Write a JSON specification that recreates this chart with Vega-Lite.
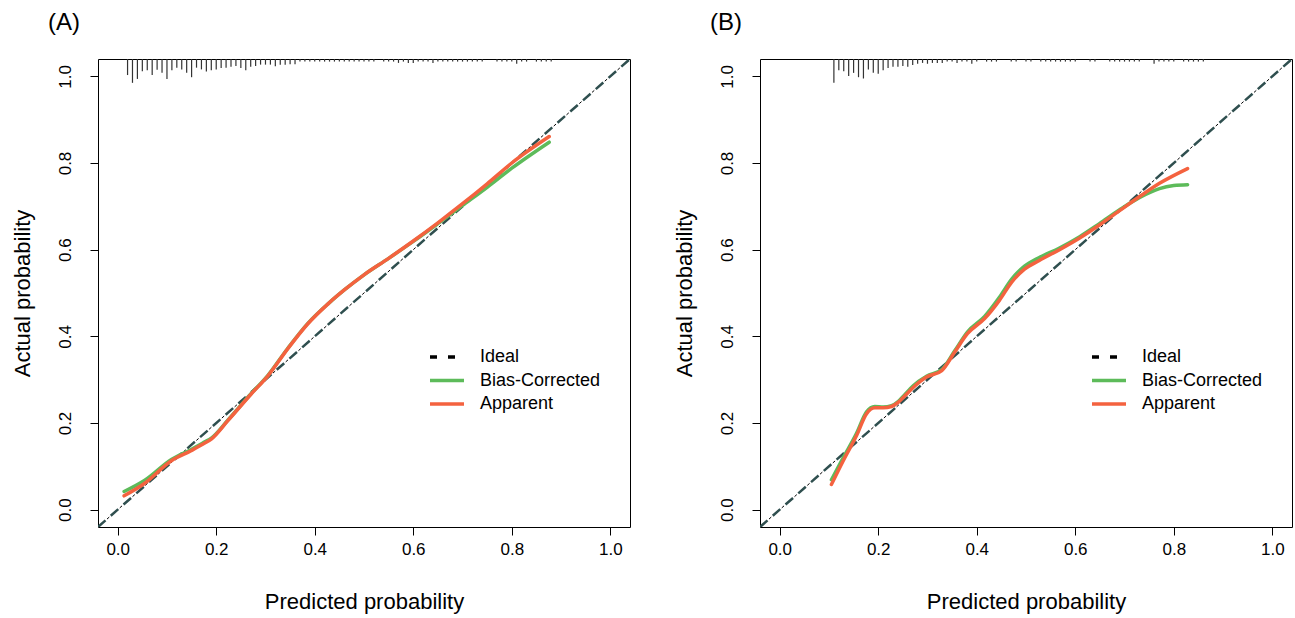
{
  "$schema": "https://vega.github.io/schema/vega-lite/v6.json",
  "background": "white",
  "padding": {"left": 10, "top": 10, "right": 5, "bottom": 5},
  "bounds": "flush",
  "spacing": 130,
  "config": {
    "font": "Liberation Sans",
    "view": {"stroke": "black", "strokeWidth": 1},
    "axis": {
      "domain": false, "grid": false, "ticks": true, "tickColor": "black", "tickSize": 8, "tickWidth": 1,
      "labelFont": "Liberation Sans", "labelFontSize": 17, "labelColor": "black",
      "titleFont": "Liberation Sans", "titleFontSize": 22, "titleFontWeight": "normal", "titleColor": "black"
    },
    "axisX": {"labelPadding": 6, "titlePadding": 34},
    "axisY": {"labelAngle": -90, "labelAlign": "center", "labelBaseline": "bottom", "labelPadding": 16, "titlePadding": 22},
    "title": {"font": "Liberation Sans", "fontSize": 24, "fontWeight": "normal", "color": "black"}
  },
  "datasets": {
    "ideal": [{"x": -0.04, "y": -0.04}, {"x": 1.04, "y": 1.04}],
    "rugA": [
      {"x": 0.02, "ybot": 1.003}, {"x": 0.03, "ybot": 0.985}, {"x": 0.04, "ybot": 0.994}, {"x": 0.05, "ybot": 1.012},
      {"x": 0.06, "ybot": 1.014}, {"x": 0.07, "ybot": 1.003}, {"x": 0.08, "ybot": 1.015}, {"x": 0.09, "ybot": 1.008},
      {"x": 0.10, "ybot": 0.994}, {"x": 0.11, "ybot": 1.014}, {"x": 0.12, "ybot": 1.020}, {"x": 0.13, "ybot": 1.016},
      {"x": 0.14, "ybot": 1.008}, {"x": 0.15, "ybot": 0.998}, {"x": 0.16, "ybot": 1.020}, {"x": 0.17, "ybot": 1.016},
      {"x": 0.18, "ybot": 1.011}, {"x": 0.19, "ybot": 1.014}, {"x": 0.20, "ybot": 1.016}, {"x": 0.21, "ybot": 1.019},
      {"x": 0.22, "ybot": 1.020}, {"x": 0.23, "ybot": 1.022}, {"x": 0.24, "ybot": 1.024}, {"x": 0.25, "ybot": 1.019},
      {"x": 0.26, "ybot": 1.014}, {"x": 0.27, "ybot": 1.022}, {"x": 0.28, "ybot": 1.024}, {"x": 0.29, "ybot": 1.027},
      {"x": 0.30, "ybot": 1.027}, {"x": 0.31, "ybot": 1.027}, {"x": 0.32, "ybot": 1.023}, {"x": 0.33, "ybot": 1.027},
      {"x": 0.34, "ybot": 1.027}, {"x": 0.35, "ybot": 1.028}, {"x": 0.36, "ybot": 1.028}, {"x": 0.37, "ybot": 1.034},
      {"x": 0.38, "ybot": 1.034}, {"x": 0.39, "ybot": 1.034}, {"x": 0.40, "ybot": 1.034}, {"x": 0.41, "ybot": 1.034},
      {"x": 0.42, "ybot": 1.034}, {"x": 0.43, "ybot": 1.034}, {"x": 0.44, "ybot": 1.034}, {"x": 0.45, "ybot": 1.034},
      {"x": 0.46, "ybot": 1.034}, {"x": 0.47, "ybot": 1.034}, {"x": 0.48, "ybot": 1.034}, {"x": 0.49, "ybot": 1.034},
      {"x": 0.50, "ybot": 1.034}, {"x": 0.51, "ybot": 1.034}, {"x": 0.52, "ybot": 1.034}, {"x": 0.54, "ybot": 1.034},
      {"x": 0.55, "ybot": 1.034}, {"x": 0.56, "ybot": 1.034}, {"x": 0.57, "ybot": 1.031}, {"x": 0.58, "ybot": 1.034},
      {"x": 0.59, "ybot": 1.031}, {"x": 0.60, "ybot": 1.031}, {"x": 0.61, "ybot": 1.034}, {"x": 0.62, "ybot": 1.034},
      {"x": 0.63, "ybot": 1.034}, {"x": 0.64, "ybot": 1.031}, {"x": 0.65, "ybot": 1.034}, {"x": 0.66, "ybot": 1.034},
      {"x": 0.67, "ybot": 1.034}, {"x": 0.68, "ybot": 1.034}, {"x": 0.69, "ybot": 1.034}, {"x": 0.70, "ybot": 1.034},
      {"x": 0.71, "ybot": 1.034}, {"x": 0.72, "ybot": 1.034}, {"x": 0.73, "ybot": 1.034}, {"x": 0.74, "ybot": 1.034},
      {"x": 0.77, "ybot": 1.034}, {"x": 0.78, "ybot": 1.034}, {"x": 0.79, "ybot": 1.034}, {"x": 0.80, "ybot": 1.034},
      {"x": 0.81, "ybot": 1.029}, {"x": 0.82, "ybot": 1.034}, {"x": 0.83, "ybot": 1.034}, {"x": 0.85, "ybot": 1.034},
      {"x": 0.86, "ybot": 1.034}, {"x": 0.87, "ybot": 1.034}, {"x": 0.88, "ybot": 1.034}
    ],
    "rugB": [
      {"x": 0.11, "ybot": 0.985}, {"x": 0.12, "ybot": 1.014}, {"x": 0.13, "ybot": 1.012}, {"x": 0.14, "ybot": 1.001},
      {"x": 0.15, "ybot": 1.008}, {"x": 0.16, "ybot": 0.998}, {"x": 0.17, "ybot": 0.995}, {"x": 0.18, "ybot": 1.016},
      {"x": 0.19, "ybot": 1.008}, {"x": 0.20, "ybot": 1.006}, {"x": 0.21, "ybot": 1.014}, {"x": 0.22, "ybot": 1.019},
      {"x": 0.23, "ybot": 1.022}, {"x": 0.24, "ybot": 1.022}, {"x": 0.25, "ybot": 1.024}, {"x": 0.26, "ybot": 1.022},
      {"x": 0.27, "ybot": 1.026}, {"x": 0.28, "ybot": 1.029}, {"x": 0.29, "ybot": 1.031}, {"x": 0.30, "ybot": 1.029},
      {"x": 0.31, "ybot": 1.031}, {"x": 0.32, "ybot": 1.031}, {"x": 0.33, "ybot": 1.031}, {"x": 0.34, "ybot": 1.034},
      {"x": 0.35, "ybot": 1.034}, {"x": 0.36, "ybot": 1.031}, {"x": 0.37, "ybot": 1.034}, {"x": 0.38, "ybot": 1.034},
      {"x": 0.39, "ybot": 1.029}, {"x": 0.40, "ybot": 1.034}, {"x": 0.42, "ybot": 1.034}, {"x": 0.43, "ybot": 1.034},
      {"x": 0.44, "ybot": 1.034}, {"x": 0.47, "ybot": 1.034}, {"x": 0.48, "ybot": 1.034}, {"x": 0.50, "ybot": 1.034},
      {"x": 0.51, "ybot": 1.034}, {"x": 0.53, "ybot": 1.034}, {"x": 0.54, "ybot": 1.034}, {"x": 0.55, "ybot": 1.034},
      {"x": 0.56, "ybot": 1.034}, {"x": 0.57, "ybot": 1.034}, {"x": 0.58, "ybot": 1.034}, {"x": 0.59, "ybot": 1.034},
      {"x": 0.60, "ybot": 1.034}, {"x": 0.63, "ybot": 1.034}, {"x": 0.64, "ybot": 1.034}, {"x": 0.67, "ybot": 1.034},
      {"x": 0.68, "ybot": 1.034}, {"x": 0.69, "ybot": 1.034}, {"x": 0.70, "ybot": 1.034}, {"x": 0.71, "ybot": 1.034},
      {"x": 0.72, "ybot": 1.034}, {"x": 0.73, "ybot": 1.034}, {"x": 0.76, "ybot": 1.029}, {"x": 0.77, "ybot": 1.034},
      {"x": 0.78, "ybot": 1.034}, {"x": 0.79, "ybot": 1.034}, {"x": 0.80, "ybot": 1.034}, {"x": 0.82, "ybot": 1.034},
      {"x": 0.83, "ybot": 1.034}, {"x": 0.84, "ybot": 1.034}, {"x": 0.85, "ybot": 1.034}, {"x": 0.86, "ybot": 1.034}
    ],
    "curvesA": [
      {"series": "Bias-Corrected", "x": 0.013, "y": 0.042}, {"series": "Bias-Corrected", "x": 0.055, "y": 0.068},
      {"series": "Bias-Corrected", "x": 0.109, "y": 0.116}, {"series": "Bias-Corrected", "x": 0.149, "y": 0.139},
      {"series": "Bias-Corrected", "x": 0.176, "y": 0.156}, {"series": "Bias-Corrected", "x": 0.19, "y": 0.165},
      {"series": "Bias-Corrected", "x": 0.224, "y": 0.207}, {"series": "Bias-Corrected", "x": 0.271, "y": 0.268},
      {"series": "Bias-Corrected", "x": 0.305, "y": 0.31}, {"series": "Bias-Corrected", "x": 0.345, "y": 0.372},
      {"series": "Bias-Corrected", "x": 0.386, "y": 0.43}, {"series": "Bias-Corrected", "x": 0.427, "y": 0.475},
      {"series": "Bias-Corrected", "x": 0.46, "y": 0.507}, {"series": "Bias-Corrected", "x": 0.5, "y": 0.542},
      {"series": "Bias-Corrected", "x": 0.55, "y": 0.58}, {"series": "Bias-Corrected", "x": 0.6, "y": 0.619},
      {"series": "Bias-Corrected", "x": 0.65, "y": 0.66}, {"series": "Bias-Corrected", "x": 0.7, "y": 0.702},
      {"series": "Bias-Corrected", "x": 0.75, "y": 0.744}, {"series": "Bias-Corrected", "x": 0.8, "y": 0.788},
      {"series": "Bias-Corrected", "x": 0.876, "y": 0.848},
      {"series": "Apparent", "x": 0.013, "y": 0.032}, {"series": "Apparent", "x": 0.055, "y": 0.061},
      {"series": "Apparent", "x": 0.109, "y": 0.113}, {"series": "Apparent", "x": 0.149, "y": 0.136},
      {"series": "Apparent", "x": 0.176, "y": 0.153}, {"series": "Apparent", "x": 0.19, "y": 0.163},
      {"series": "Apparent", "x": 0.224, "y": 0.206}, {"series": "Apparent", "x": 0.271, "y": 0.267},
      {"series": "Apparent", "x": 0.305, "y": 0.309}, {"series": "Apparent", "x": 0.345, "y": 0.371},
      {"series": "Apparent", "x": 0.386, "y": 0.429}, {"series": "Apparent", "x": 0.427, "y": 0.475},
      {"series": "Apparent", "x": 0.46, "y": 0.507}, {"series": "Apparent", "x": 0.5, "y": 0.542},
      {"series": "Apparent", "x": 0.55, "y": 0.58}, {"series": "Apparent", "x": 0.6, "y": 0.62},
      {"series": "Apparent", "x": 0.65, "y": 0.662}, {"series": "Apparent", "x": 0.7, "y": 0.706},
      {"series": "Apparent", "x": 0.75, "y": 0.752}, {"series": "Apparent", "x": 0.8, "y": 0.8},
      {"series": "Apparent", "x": 0.876, "y": 0.861}
    ],
    "curvesB": [
      {"series": "Bias-Corrected", "x": 0.105, "y": 0.069}, {"series": "Bias-Corrected", "x": 0.129, "y": 0.12},
      {"series": "Bias-Corrected", "x": 0.156, "y": 0.176}, {"series": "Bias-Corrected", "x": 0.176, "y": 0.225},
      {"series": "Bias-Corrected", "x": 0.193, "y": 0.238}, {"series": "Bias-Corrected", "x": 0.21, "y": 0.237},
      {"series": "Bias-Corrected", "x": 0.227, "y": 0.24}, {"series": "Bias-Corrected", "x": 0.241, "y": 0.25},
      {"series": "Bias-Corrected", "x": 0.251, "y": 0.262}, {"series": "Bias-Corrected", "x": 0.271, "y": 0.286},
      {"series": "Bias-Corrected", "x": 0.298, "y": 0.308}, {"series": "Bias-Corrected", "x": 0.329, "y": 0.323},
      {"series": "Bias-Corrected", "x": 0.355, "y": 0.366}, {"series": "Bias-Corrected", "x": 0.381, "y": 0.41},
      {"series": "Bias-Corrected", "x": 0.416, "y": 0.446}, {"series": "Bias-Corrected", "x": 0.446, "y": 0.49},
      {"series": "Bias-Corrected", "x": 0.471, "y": 0.532}, {"series": "Bias-Corrected", "x": 0.497, "y": 0.562},
      {"series": "Bias-Corrected", "x": 0.527, "y": 0.582}, {"series": "Bias-Corrected", "x": 0.568, "y": 0.604},
      {"series": "Bias-Corrected", "x": 0.609, "y": 0.63}, {"series": "Bias-Corrected", "x": 0.649, "y": 0.66},
      {"series": "Bias-Corrected", "x": 0.69, "y": 0.692}, {"series": "Bias-Corrected", "x": 0.73, "y": 0.72},
      {"series": "Bias-Corrected", "x": 0.771, "y": 0.741}, {"series": "Bias-Corrected", "x": 0.8, "y": 0.748},
      {"series": "Bias-Corrected", "x": 0.828, "y": 0.75},
      {"series": "Apparent", "x": 0.105, "y": 0.058}, {"series": "Apparent", "x": 0.129, "y": 0.113},
      {"series": "Apparent", "x": 0.156, "y": 0.171}, {"series": "Apparent", "x": 0.176, "y": 0.221},
      {"series": "Apparent", "x": 0.193, "y": 0.235}, {"series": "Apparent", "x": 0.21, "y": 0.235},
      {"series": "Apparent", "x": 0.227, "y": 0.238}, {"series": "Apparent", "x": 0.241, "y": 0.248},
      {"series": "Apparent", "x": 0.251, "y": 0.259}, {"series": "Apparent", "x": 0.271, "y": 0.282},
      {"series": "Apparent", "x": 0.298, "y": 0.306}, {"series": "Apparent", "x": 0.329, "y": 0.321},
      {"series": "Apparent", "x": 0.355, "y": 0.363}, {"series": "Apparent", "x": 0.381, "y": 0.406},
      {"series": "Apparent", "x": 0.416, "y": 0.441}, {"series": "Apparent", "x": 0.446, "y": 0.483},
      {"series": "Apparent", "x": 0.471, "y": 0.525}, {"series": "Apparent", "x": 0.497, "y": 0.555},
      {"series": "Apparent", "x": 0.527, "y": 0.575}, {"series": "Apparent", "x": 0.568, "y": 0.6},
      {"series": "Apparent", "x": 0.609, "y": 0.627}, {"series": "Apparent", "x": 0.649, "y": 0.657},
      {"series": "Apparent", "x": 0.69, "y": 0.69}, {"series": "Apparent", "x": 0.73, "y": 0.722},
      {"series": "Apparent", "x": 0.771, "y": 0.753}, {"series": "Apparent", "x": 0.828, "y": 0.787}
    ]
  },
  "resolve": {"scale": {"color": "independent"}, "legend": {"color": "independent"}},
  "hconcat": [
    {
      "width": 532,
      "height": 468,
      "title": {"text": "(A)", "anchor": "start", "frame": "group", "dx": -50, "offset": 4, "baseline": "alphabetic"},
      "layer": [
        {
          "data": {"name": "rugA"},
          "mark": {"type": "rule", "color": "#333333", "strokeWidth": 1.2},
          "encoding": {
            "x": {"field": "x", "type": "quantitative", "title": "Predicted probability", "scale": {"domain": [-0.04, 1.04], "nice": false, "zero": false}, "axis": {"values": [0, 0.2, 0.4, 0.6, 0.8, 1], "format": ".1f"}},
            "y": {"field": "ybot", "type": "quantitative", "title": "Actual probability", "scale": {"domain": [-0.04, 1.04], "nice": false, "zero": false}, "axis": {"values": [0, 0.2, 0.4, 0.6, 0.8, 1], "format": ".1f"}},
            "y2": {"datum": 1.04}
          }
        },
        {
          "data": {"name": "ideal"},
          "mark": {"type": "line", "color": "#2F4F4F", "strokeWidth": 2.5, "strokeDash": [10, 7], "clip": true},
          "encoding": {
            "x": {"field": "x", "type": "quantitative", "title": "Predicted probability"},
            "y": {"field": "y", "type": "quantitative", "title": "Actual probability"}
          }
        },
        {
          "data": {"name": "ideal"},
          "mark": {"type": "line", "color": "black", "strokeWidth": 1, "strokeDash": [3, 14], "strokeDashOffset": 5, "clip": true},
          "encoding": {
            "x": {"field": "x", "type": "quantitative", "title": "Predicted probability"},
            "y": {"field": "y", "type": "quantitative", "title": "Actual probability"}
          }
        },
        {
          "data": {"name": "curvesA"},
          "transform": [{"filter": "datum.series === 'Bias-Corrected'"}],
          "mark": {"type": "line", "strokeWidth": 3.5, "interpolate": "monotone", "strokeCap": "round"},
          "encoding": {
            "x": {"field": "x", "type": "quantitative", "title": "Predicted probability"},
            "y": {"field": "y", "type": "quantitative", "title": "Actual probability"},
            "color": {
              "field": "series", "type": "nominal",
              "scale": {"domain": ["Ideal", "Bias-Corrected", "Apparent"], "range": ["black", "#5DBB5A", "#F4623F"]},
              "legend": {
                "title": null, "orient": "none", "legendX": 330, "legendY": 289, "padding": 0,
                "symbolType": "stroke", "symbolSize": 1156, "symbolStrokeWidth": 3.5, "clipHeight": 18, "rowPadding": 5.5,
                "labelFont": "Liberation Sans", "labelFontSize": 18, "labelColor": "black", "labelOffset": 14,
                "encode": {"symbols": {"update": {"strokeDash": [{"test": "datum.value === 'Ideal'", "value": [7, 11]}, {"value": [1, 0]}]}}}
              }
            }
          }
        },
        {
          "data": {"name": "curvesA"},
          "transform": [{"filter": "datum.series === 'Apparent'"}],
          "mark": {"type": "line", "strokeWidth": 3.5, "interpolate": "monotone", "strokeCap": "round"},
          "encoding": {
            "x": {"field": "x", "type": "quantitative", "title": "Predicted probability"},
            "y": {"field": "y", "type": "quantitative", "title": "Actual probability"},
            "color": {"field": "series", "type": "nominal"}
          }
        }
      ]
    },
    {
      "width": 532,
      "height": 468,
      "title": {"text": "(B)", "anchor": "start", "frame": "group", "dx": -50, "offset": 4, "baseline": "alphabetic"},
      "layer": [
        {
          "data": {"name": "rugB"},
          "mark": {"type": "rule", "color": "#333333", "strokeWidth": 1.2},
          "encoding": {
            "x": {"field": "x", "type": "quantitative", "title": "Predicted probability", "scale": {"domain": [-0.04, 1.04], "nice": false, "zero": false}, "axis": {"values": [0, 0.2, 0.4, 0.6, 0.8, 1], "format": ".1f"}},
            "y": {"field": "ybot", "type": "quantitative", "title": "Actual probability", "scale": {"domain": [-0.04, 1.04], "nice": false, "zero": false}, "axis": {"values": [0, 0.2, 0.4, 0.6, 0.8, 1], "format": ".1f"}},
            "y2": {"datum": 1.04}
          }
        },
        {
          "data": {"name": "ideal"},
          "mark": {"type": "line", "color": "#2F4F4F", "strokeWidth": 2.5, "strokeDash": [10, 7], "clip": true},
          "encoding": {
            "x": {"field": "x", "type": "quantitative", "title": "Predicted probability"},
            "y": {"field": "y", "type": "quantitative", "title": "Actual probability"}
          }
        },
        {
          "data": {"name": "ideal"},
          "mark": {"type": "line", "color": "black", "strokeWidth": 1, "strokeDash": [3, 14], "strokeDashOffset": 5, "clip": true},
          "encoding": {
            "x": {"field": "x", "type": "quantitative", "title": "Predicted probability"},
            "y": {"field": "y", "type": "quantitative", "title": "Actual probability"}
          }
        },
        {
          "data": {"name": "curvesB"},
          "transform": [{"filter": "datum.series === 'Bias-Corrected'"}],
          "mark": {"type": "line", "strokeWidth": 3.5, "interpolate": "monotone", "strokeCap": "round"},
          "encoding": {
            "x": {"field": "x", "type": "quantitative", "title": "Predicted probability"},
            "y": {"field": "y", "type": "quantitative", "title": "Actual probability"},
            "color": {
              "field": "series", "type": "nominal",
              "scale": {"domain": ["Ideal", "Bias-Corrected", "Apparent"], "range": ["black", "#5DBB5A", "#F4623F"]},
              "legend": {
                "title": null, "orient": "none", "legendX": 330, "legendY": 289, "padding": 0,
                "symbolType": "stroke", "symbolSize": 1156, "symbolStrokeWidth": 3.5, "clipHeight": 18, "rowPadding": 5.5,
                "labelFont": "Liberation Sans", "labelFontSize": 18, "labelColor": "black", "labelOffset": 14,
                "encode": {"symbols": {"update": {"strokeDash": [{"test": "datum.value === 'Ideal'", "value": [7, 11]}, {"value": [1, 0]}]}}}
              }
            }
          }
        },
        {
          "data": {"name": "curvesB"},
          "transform": [{"filter": "datum.series === 'Apparent'"}],
          "mark": {"type": "line", "strokeWidth": 3.5, "interpolate": "monotone", "strokeCap": "round"},
          "encoding": {
            "x": {"field": "x", "type": "quantitative", "title": "Predicted probability"},
            "y": {"field": "y", "type": "quantitative", "title": "Actual probability"},
            "color": {"field": "series", "type": "nominal"}
          }
        }
      ]
    }
  ]
}
